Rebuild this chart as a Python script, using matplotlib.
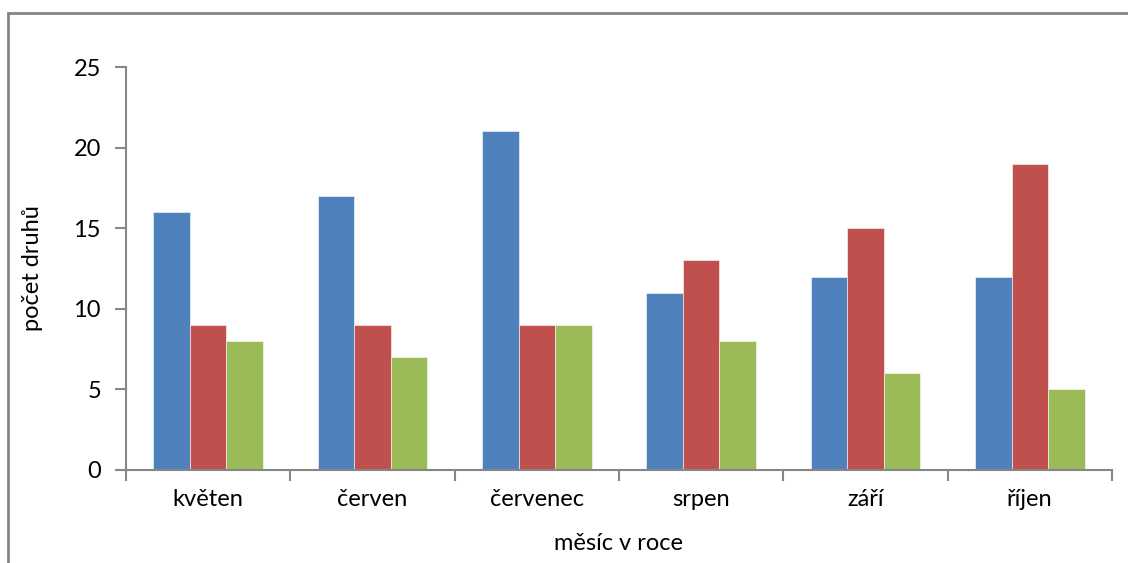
import numpy as np
import matplotlib
matplotlib.use("Agg")
from matplotlib import pyplot as plt
from matplotlib.patches import Rectangle

months = ["květen", "červen", "červenec", "srpen", "září", "říjen"]
series_a = [16, 17, 21, 11, 12, 12]
series_b = [9, 9, 9, 13, 15, 19]
series_c = [8, 7, 9, 8, 6, 5]
colors = ["#4F81BD", "#C0504D", "#9BBB59"]

plt.rcParams['font.family'] = ['Lato', 'DejaVu Sans']

fig = plt.figure(figsize=(11.28, 5.63), dpi=100)
# outer chart border
fig.patches.append(Rectangle((8/1128, -0.1), 1.2, 1 - 13/563 + 0.1, transform=fig.transFigure,
                             fill=False, edgecolor="#868686", linewidth=2))
ax = fig.add_axes([126/1128, 1 - 470/563, (1112-126)/1128, (470-67)/563])

x = np.arange(len(months))
w = 1 / 4.5
for k, vals in enumerate([series_a, series_b, series_c]):
    ax.bar(x + (k - 1) * w, vals, width=w, color=colors[k], edgecolor="white", linewidth=0.4)

ax.set_xlim(-0.5, len(months) - 0.5)
ax.set_ylim(0, 25)
ax.set_yticks(range(0, 26, 5))
ax.set_xticks(np.arange(-0.5, len(months), 1))
ax.set_xticklabels([])
ax.set_xticks(x, minor=True)
ax.set_xticklabels(months, minor=True, fontsize=17)
ax.tick_params(axis='x', which='minor', length=0, pad=14)
ax.tick_params(axis='x', which='major', length=8, color="#868686", width=1.5, direction='out')
ax.tick_params(axis='y', length=8, color="#868686", width=1.5, direction='out', labelsize=17, pad=10)

for s in ["top", "right"]:
    ax.spines[s].set_visible(False)
for s in ["left", "bottom"]:
    ax.spines[s].set_color("#868686")
    ax.spines[s].set_linewidth(1.5)

ax.set_ylabel("počet druhů", fontsize=17, labelpad=22)
ax.set_xlabel("měsíc v roce", fontsize=17, labelpad=16)

fig.savefig("out.png", dpi=100)
